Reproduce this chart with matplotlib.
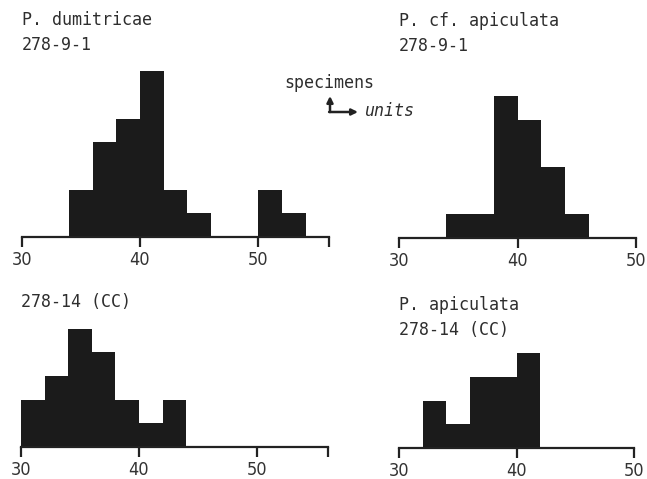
import matplotlib
matplotlib.use("Agg")
import matplotlib.pyplot as plt
from matplotlib import font_manager
from matplotlib.patches import FancyArrowPatch

# bin left edges (units) and specimen counts, bins are 2 units wide
bins_dumitricae = [34, 36, 38, 40, 42, 44, 46, 48, 50, 52]
counts_dumitricae = [2, 4, 5, 7, 2, 1, 0, 0, 2, 1]

bins_cf_apic = [34, 36, 38, 40, 42, 44]
counts_cf_apic = [1, 1, 6, 5, 3, 1]

bins_cc = [30, 32, 34, 36, 38, 40, 42]
counts_cc = [2, 3, 5, 4, 2, 1, 2]

bins_apic = [32, 34, 36, 38, 40]
counts_apic = [2, 1, 3, 3, 4]

ticks_long = [30, 40, 50, 56]
labels_long = ["30", "40", "50", ""]
ticks_short = [30, 40, 50]
labels_short = ["30", "40", "50"]

W, H = 647, 479
mono = "DejaVu Sans Mono"

# narrow face for the tick numbers, if one is around
tickprops = dict(fontfamily="Liberation Sans", fontsize=12.5)
try:
    font_manager.findfont("Liberation Sans Narrow", fallback_to_default=False)
    tickprops = dict(fontfamily="Liberation Sans Narrow", fontsize=13.5)
except Exception:
    p = font_manager.findfont(font_manager.FontProperties(family="DejaVu Sans", stretch="condensed"))
    if "Condensed" in p:
        tickprops = dict(fontfamily="DejaVu Sans", fontstretch="condensed", fontsize=13)

fig = plt.figure(figsize=(W / 100, H / 100), dpi=100)


def panel(x30, px_unit, base_y, xmax, bins, counts, ticks, labels):
    # axes placed so x=30 sits at x30 px and the baseline at base_y px from the top
    unit_h = 23.7
    ymax = 8
    ax = fig.add_axes([x30 / W, (H - base_y) / H, (xmax - 30) * px_unit / W, ymax * unit_h / H])
    ax.bar(bins, counts, width=2, align="edge", color="#1b1b1b", edgecolor="none")
    ax.set_xlim(30, xmax)
    ax.set_ylim(0, ymax)
    for s in ["top", "left", "right"]:
        ax.spines[s].set_visible(False)
    ax.spines["bottom"].set_linewidth(1.6)
    ax.spines["bottom"].set_color("#222222")
    ax.set_yticks([])
    ax.set_xticks(ticks)
    ax.set_xticklabels(labels, color="#333333", **tickprops)
    ax.tick_params(axis="x", direction="out", length=7, width=1.6, pad=3, color="#222222")
    ax.patch.set_alpha(0)
    return ax


panel(21.7, 11.83, 237, 56, bins_dumitricae, counts_dumitricae, ticks_long, labels_long)
panel(399, 11.85, 238, 50, bins_cf_apic, counts_cf_apic, ticks_short, labels_short)
panel(21, 11.8, 447, 56, bins_cc, counts_cc, ticks_long, labels_long)
panel(399, 11.75, 448, 50, bins_apic, counts_apic, ticks_short, labels_short)


def label(px, py, s, **kw):
    fig.text(px / W, 1 - py / H, s, fontfamily=mono, fontsize=12, color="#2e2e2e",
             ha="left", va="center", **kw)


label(22, 20, "P. dumitricae")
label(22, 45, "278-9-1")
label(399, 21, "P. cf. apiculata")
label(399, 46, "278-9-1")
label(21, 302, "278-14 (CC)")
label(399, 305, "P. apiculata")
label(399, 330, "278-14 (CC)")

# key: specimens up, units right
label(284, 83, "specimens")
label(365, 111, "units", style="italic")
arrow = dict(arrowstyle="-|>", color="#222222", lw=1.8, mutation_scale=9,
             shrinkA=0, shrinkB=0, transform=fig.transFigure)
fig.patches.append(FancyArrowPatch((330 / W, 1 - 112 / H), (330 / W, 1 - 96 / H), **arrow))
fig.patches.append(FancyArrowPatch((329.1 / W, 1 - 112 / H), (358 / W, 1 - 112 / H), **arrow))

fig.savefig("out.png", dpi=100)
